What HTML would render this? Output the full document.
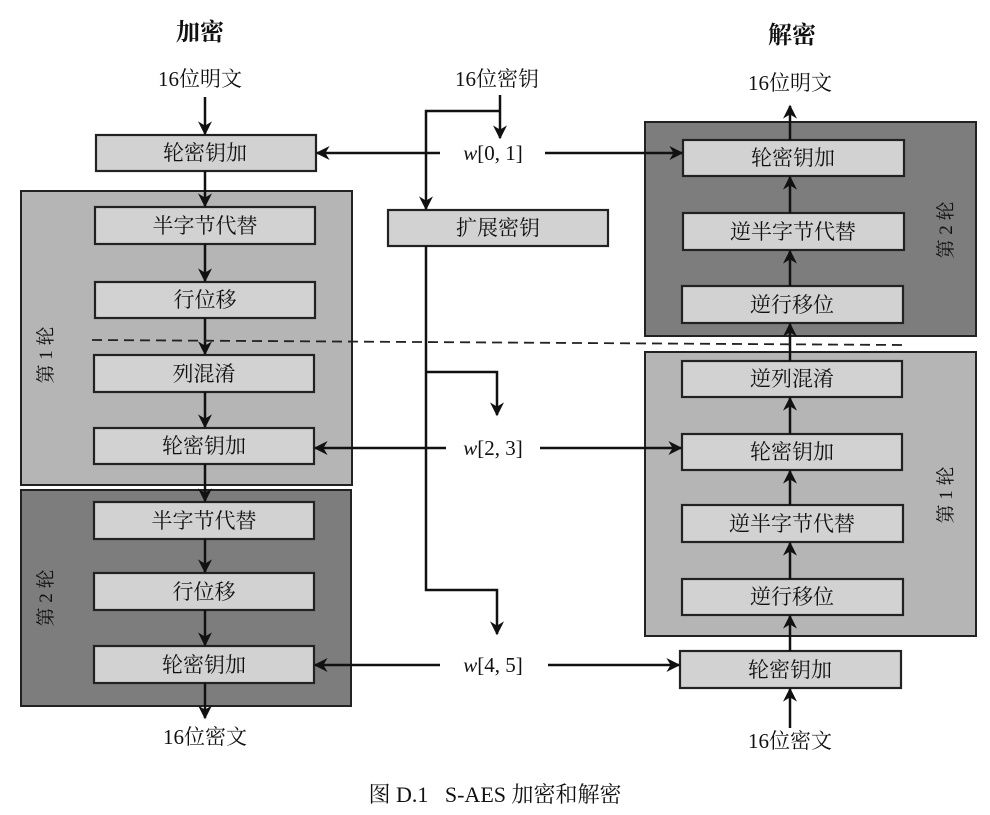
<!DOCTYPE html>
<html><head><meta charset="utf-8"><style>
html,body{margin:0;padding:0;background:#fff;}
svg{display:block;}
text{font-family:"Liberation Serif","Noto Serif CJK SC","Noto Sans CJK SC",serif;fill:#111;}
</style></head><body>
<svg width="990" height="815" viewBox="0 0 990 815" xmlns="http://www.w3.org/2000/svg">
<defs>
<marker id="b" viewBox="0 0 10 10" refX="9" refY="5" markerWidth="18" markerHeight="14" orient="auto" markerUnits="userSpaceOnUse"><path d="M0,0 L10,5 L0,10 L3,5 z" fill="#111"/></marker>
</defs>
<g stroke="#222" stroke-width="2">
<rect x="21" y="191" width="331" height="294" fill="#b5b5b5"/>
<rect x="21" y="490" width="330" height="216" fill="#7d7d7d"/>
<rect x="645" y="122" width="331" height="214" fill="#7d7d7d"/>
<rect x="645" y="352" width="331" height="284" fill="#b5b5b5"/>
</g>
<g stroke="#222" stroke-width="2.2" fill="#d2d2d2">
<rect x="96" y="135" width="220" height="36"/>
<rect x="95" y="207" width="220" height="37"/>
<rect x="95" y="282" width="220" height="36"/>
<rect x="94" y="355" width="220" height="37"/>
<rect x="94" y="428" width="220" height="36"/>
<rect x="94" y="502" width="220" height="37"/>
<rect x="94" y="573" width="220" height="37"/>
<rect x="94" y="646" width="220" height="37"/>
<rect x="388" y="210" width="220" height="36"/>
<rect x="683" y="140" width="221" height="36"/>
<rect x="683" y="213" width="221" height="37"/>
<rect x="682" y="286" width="221" height="37"/>
<rect x="682" y="361" width="220" height="36"/>
<rect x="682" y="434" width="220" height="36"/>
<rect x="682" y="505" width="221" height="37"/>
<rect x="682" y="579" width="221" height="36"/>
<rect x="680" y="651" width="221" height="37"/>
</g>
<g stroke="#111" stroke-width="2.5" fill="none" marker-end="url(#b)">
<line x1="205" y1="97" x2="205" y2="134"/>
<line x1="205" y1="171" x2="205" y2="206"/>
<line x1="205" y1="244" x2="205" y2="281"/>
<line x1="205" y1="318" x2="205" y2="354"/>
<line x1="205" y1="392" x2="205" y2="427"/>
<line x1="205" y1="464" x2="205" y2="501"/>
<line x1="205" y1="539" x2="205" y2="572"/>
<line x1="205" y1="610" x2="205" y2="645"/>
<line x1="205" y1="683" x2="205" y2="718"/>
<line x1="440" y1="153" x2="317" y2="153"/>
<line x1="545" y1="153" x2="682" y2="153"/>
<line x1="446" y1="448" x2="315" y2="448"/>
<line x1="540" y1="448" x2="681" y2="448"/>
<line x1="440" y1="665" x2="315" y2="665"/>
<line x1="548" y1="665" x2="679" y2="665"/>
<line x1="500" y1="95" x2="500" y2="138"/>
<polyline points="500,111 426,111 426,209"/>
<polyline points="426,372 497,372 497,415"/>
<polyline points="426,246 426,590 497,590 497,634"/>
<line x1="790" y1="140" x2="790" y2="106"/>
<line x1="790" y1="213" x2="790" y2="177"/>
<line x1="790" y1="286" x2="790" y2="251"/>
<line x1="790" y1="361" x2="790" y2="324"/>
<line x1="790" y1="434" x2="790" y2="398"/>
<line x1="790" y1="505" x2="790" y2="471"/>
<line x1="790" y1="579" x2="790" y2="543"/>
<line x1="790" y1="651" x2="790" y2="616"/>
<line x1="790" y1="728" x2="790" y2="689"/>
</g>
<line x1="92" y1="340" x2="902" y2="345" stroke="#222" stroke-width="1.8" stroke-dasharray="10,6"/>
<g font-size="21" text-anchor="middle">
<text x="205" y="160">轮密钥加</text>
<text x="205" y="233">半字节代替</text>
<text x="205" y="307">行位移</text>
<text x="204" y="381">列混淆</text>
<text x="204" y="453">轮密钥加</text>
<text x="204" y="528">半字节代替</text>
<text x="204" y="599">行位移</text>
<text x="204" y="672">轮密钥加</text>
<text x="498" y="235">扩展密钥</text>
<text x="793" y="165">轮密钥加</text>
<text x="793" y="239">逆半字节代替</text>
<text x="792" y="312">逆行移位</text>
<text x="792" y="386">逆列混淆</text>
<text x="792" y="459">轮密钥加</text>
<text x="792" y="531">逆半字节代替</text>
<text x="792" y="604">逆行移位</text>
<text x="790" y="677">轮密钥加</text>
<text x="200" y="86">16位明文</text>
<text x="497" y="86">16位密钥</text>
<text x="790" y="90">16位明文</text>
<text x="205" y="744">16位密文</text>
<text x="790" y="748">16位密文</text>
<text x="493" y="160"><tspan font-style="italic">w</tspan>[0, 1]</text>
<text x="493" y="455"><tspan font-style="italic">w</tspan>[2, 3]</text>
<text x="493" y="672"><tspan font-style="italic">w</tspan>[4, 5]</text>
</g>
<g font-size="24" text-anchor="middle" font-weight="bold">
<text x="200" y="40">加密</text>
<text x="792" y="43">解密</text>
</g>
<g font-size="19" text-anchor="middle" fill="#333">
<text transform="translate(52,355) rotate(-90)">第 1 轮</text>
<text transform="translate(52,598) rotate(-90)">第 2 轮</text>
<text transform="translate(952,230) rotate(-90)">第 2 轮</text>
<text transform="translate(952,495) rotate(-90)">第 1 轮</text>
</g>
<text x="495" y="802" font-size="22" text-anchor="middle" xml:space="preserve">图 D.1   S-AES 加密和解密</text>
</svg>
</body></html>
